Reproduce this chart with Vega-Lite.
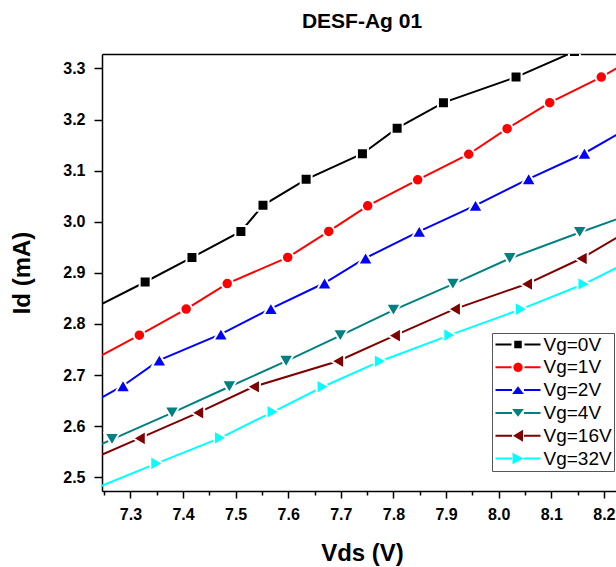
{
  "$schema": "https://vega.github.io/schema/vega-lite/v6.json",
  "width": 514,
  "height": 437,
  "autosize": {"type": "none"},
  "padding": {"left": 102, "top": 54, "right": 0, "bottom": 76},
  "background": "white",
  "config": {"view": {"stroke": null}, "font": "Liberation Sans"},
  "title": {"text": "DESF-Ag 01", "font": "Liberation Sans", "fontSize": 21, "fontWeight": "bold", "color": "black", "anchor": "middle", "frame": "group", "baseline": "alphabetic", "offset": 26, "dx": 3, "dy": 21},
  "datasets": {
    "main": [
      {"series": "Vg=0V", "vds": 7.230, "id": 2.831},
      {"series": "Vg=0V", "vds": 7.328, "id": 2.882},
      {"series": "Vg=0V", "vds": 7.417, "id": 2.930},
      {"series": "Vg=0V", "vds": 7.510, "id": 2.981},
      {"series": "Vg=0V", "vds": 7.552, "id": 3.032},
      {"series": "Vg=0V", "vds": 7.634, "id": 3.083},
      {"series": "Vg=0V", "vds": 7.741, "id": 3.133},
      {"series": "Vg=0V", "vds": 7.807, "id": 3.183},
      {"series": "Vg=0V", "vds": 7.895, "id": 3.233},
      {"series": "Vg=0V", "vds": 8.033, "id": 3.283},
      {"series": "Vg=0V", "vds": 8.144, "id": 3.333},
      {"series": "Vg=1V", "vds": 7.226, "id": 2.728},
      {"series": "Vg=1V", "vds": 7.317, "id": 2.778},
      {"series": "Vg=1V", "vds": 7.406, "id": 2.829},
      {"series": "Vg=1V", "vds": 7.484, "id": 2.879},
      {"series": "Vg=1V", "vds": 7.599, "id": 2.930},
      {"series": "Vg=1V", "vds": 7.677, "id": 2.981},
      {"series": "Vg=1V", "vds": 7.751, "id": 3.031},
      {"series": "Vg=1V", "vds": 7.846, "id": 3.082},
      {"series": "Vg=1V", "vds": 7.943, "id": 3.132},
      {"series": "Vg=1V", "vds": 8.016, "id": 3.182},
      {"series": "Vg=1V", "vds": 8.097, "id": 3.233},
      {"series": "Vg=1V", "vds": 8.195, "id": 3.283},
      {"series": "Vg=1V", "vds": 8.280, "id": 3.333},
      {"series": "Vg=2V", "vds": 7.198, "id": 2.629},
      {"series": "Vg=2V", "vds": 7.286, "id": 2.679},
      {"series": "Vg=2V", "vds": 7.355, "id": 2.729},
      {"series": "Vg=2V", "vds": 7.472, "id": 2.780},
      {"series": "Vg=2V", "vds": 7.567, "id": 2.830},
      {"series": "Vg=2V", "vds": 7.669, "id": 2.880},
      {"series": "Vg=2V", "vds": 7.747, "id": 2.929},
      {"series": "Vg=2V", "vds": 7.849, "id": 2.981},
      {"series": "Vg=2V", "vds": 7.956, "id": 3.032},
      {"series": "Vg=2V", "vds": 8.057, "id": 3.084},
      {"series": "Vg=2V", "vds": 8.163, "id": 3.134},
      {"series": "Vg=2V", "vds": 8.248, "id": 3.184},
      {"series": "Vg=4V", "vds": 7.155, "id": 2.524},
      {"series": "Vg=4V", "vds": 7.265, "id": 2.574},
      {"series": "Vg=4V", "vds": 7.379, "id": 2.626},
      {"series": "Vg=4V", "vds": 7.488, "id": 2.677},
      {"series": "Vg=4V", "vds": 7.596, "id": 2.727},
      {"series": "Vg=4V", "vds": 7.699, "id": 2.777},
      {"series": "Vg=4V", "vds": 7.800, "id": 2.827},
      {"series": "Vg=4V", "vds": 7.913, "id": 2.878},
      {"series": "Vg=4V", "vds": 8.021, "id": 2.928},
      {"series": "Vg=4V", "vds": 8.154, "id": 2.979},
      {"series": "Vg=4V", "vds": 8.290, "id": 3.029},
      {"series": "Vg=16V", "vds": 7.206, "id": 2.526},
      {"series": "Vg=16V", "vds": 7.317, "id": 2.576},
      {"series": "Vg=16V", "vds": 7.428, "id": 2.626},
      {"series": "Vg=16V", "vds": 7.534, "id": 2.677},
      {"series": "Vg=16V", "vds": 7.694, "id": 2.727},
      {"series": "Vg=16V", "vds": 7.802, "id": 2.777},
      {"series": "Vg=16V", "vds": 7.916, "id": 2.829},
      {"series": "Vg=16V", "vds": 8.053, "id": 2.878},
      {"series": "Vg=16V", "vds": 8.157, "id": 2.928},
      {"series": "Vg=16V", "vds": 8.240, "id": 2.978},
      {"series": "Vg=32V", "vds": 7.230, "id": 2.477},
      {"series": "Vg=32V", "vds": 7.350, "id": 2.527},
      {"series": "Vg=32V", "vds": 7.471, "id": 2.577},
      {"series": "Vg=32V", "vds": 7.571, "id": 2.628},
      {"series": "Vg=32V", "vds": 7.666, "id": 2.677},
      {"series": "Vg=32V", "vds": 7.775, "id": 2.727},
      {"series": "Vg=32V", "vds": 7.907, "id": 2.778},
      {"series": "Vg=32V", "vds": 8.043, "id": 2.829},
      {"series": "Vg=32V", "vds": 8.162, "id": 2.878},
      {"series": "Vg=32V", "vds": 8.260, "id": 2.928}
    ]
  },
  "data": {"name": "main"},
  "resolve": {"axis": {"x": "independent"}},
  "layer": [
    {
      "transform": [{"filter": {"field": "series", "equal": "Vg=0V"}}],
      "mark": {"type": "line", "stroke": "#000000", "strokeWidth": 2, "clip": true},
      "encoding": {
        "x": {"field": "vds", "type": "quantitative", "scale": {"domain": [7.246, 8.223], "nice": false, "zero": false},
          "axis": {
            "orient": "bottom",
            "values": [7.25,7.3,7.35,7.4,7.45,7.5,7.55,7.6,7.65,7.7,7.75,7.8,7.85,7.9,7.95,8.0,8.05,8.1,8.15,8.2],
            "labelExpr": "abs(datum.value*10 - round(datum.value*10)) < 0.001 ? format(datum.value, '.1f') : ''",
            "tickSize": {"condition": {"test": "abs(datum.value*10 - round(datum.value*10)) < 0.001", "value": 7}, "value": 4},
            "labelFont": "Liberation Sans", "labelFontSize": 16, "labelFontWeight": "bold", "labelColor": "black",
            "labelPadding": 8, "labelOverlap": false, "labelFlush": false,
            "tickColor": "black", "tickWidth": 1.5, "domainColor": "black", "domainWidth": 1.5, "grid": false,
            "title": "Vds (V)", "titleFont": "Liberation Sans", "titleFontSize": 24, "titleFontWeight": "bold", "titleColor": "black", "titlePadding": 19, "titleX": 260
          }},
        "y": {"field": "id", "type": "quantitative", "scale": {"domain": [2.473, 3.3282], "nice": false, "zero": false},
          "axis": {
            "orient": "left",
            "values": [2.5,2.55,2.6,2.65,2.7,2.75,2.8,2.85,2.9,2.95,3.0,3.05,3.1,3.15,3.2,3.25,3.3],
            "labelExpr": "abs(datum.value*10 - round(datum.value*10)) < 0.001 ? format(datum.value, '.1f') : ''",
            "tickSize": {"condition": {"test": "abs(datum.value*10 - round(datum.value*10)) < 0.001", "value": 8}, "value": 5},
            "labelFont": "Liberation Sans", "labelFontSize": 16, "labelFontWeight": "bold", "labelColor": "black",
            "labelPadding": 9, "labelOverlap": false, "labelFlush": false,
            "tickColor": "black", "tickWidth": 1.5, "domainColor": "black", "domainWidth": 1.5, "grid": false,
            "title": "Id (mA)", "titleFont": "Liberation Sans", "titleFontSize": 24, "titleFontWeight": "bold", "titleColor": "black", "titlePadding": 28
          }}
      }
    },
    {
      "transform": [{"filter": {"field": "series", "equal": "Vg=1V"}}],
      "mark": {"type": "line", "stroke": "#ff0000", "strokeWidth": 2, "clip": true},
      "encoding": {
        "x": {"field": "vds", "type": "quantitative", "axis": null},
        "y": {"field": "id", "type": "quantitative"}
      }
    },
    {
      "transform": [{"filter": {"field": "series", "equal": "Vg=2V"}}],
      "mark": {"type": "line", "stroke": "#0000ff", "strokeWidth": 2, "clip": true},
      "encoding": {
        "x": {"field": "vds", "type": "quantitative", "axis": null},
        "y": {"field": "id", "type": "quantitative"}
      }
    },
    {
      "transform": [{"filter": {"field": "series", "equal": "Vg=4V"}}],
      "mark": {"type": "line", "stroke": "#008080", "strokeWidth": 2, "clip": true},
      "encoding": {
        "x": {"field": "vds", "type": "quantitative", "axis": null},
        "y": {"field": "id", "type": "quantitative"}
      }
    },
    {
      "transform": [{"filter": {"field": "series", "equal": "Vg=16V"}}],
      "mark": {"type": "line", "stroke": "#800000", "strokeWidth": 2, "clip": true},
      "encoding": {
        "x": {"field": "vds", "type": "quantitative", "axis": null},
        "y": {"field": "id", "type": "quantitative"}
      }
    },
    {
      "transform": [{"filter": {"field": "series", "equal": "Vg=32V"}}],
      "mark": {"type": "line", "stroke": "#00ffff", "strokeWidth": 2, "clip": true},
      "encoding": {
        "x": {"field": "vds", "type": "quantitative", "axis": null},
        "y": {"field": "id", "type": "quantitative"}
      }
    },
    {
      "transform": [{"filter": {"field": "series", "equal": "Vg=0V"}}],
      "mark": {"type": "point", "shape": "square", "filled": true, "fill": "#000000", "stroke": "white", "strokeWidth": 2, "size": 121, "opacity": 1, "clip": true},
      "encoding": {
        "x": {"field": "vds", "type": "quantitative",
          "axis": {"orient": "top", "ticks": false, "labels": false, "title": null, "grid": false, "domainColor": "black", "domainWidth": 1.5}},
        "y": {"field": "id", "type": "quantitative"}
      }
    },
    {
      "transform": [{"filter": {"field": "series", "equal": "Vg=1V"}}],
      "mark": {"type": "point", "shape": "circle", "filled": true, "fill": "#ff0000", "stroke": "white", "strokeWidth": 2, "size": 132, "opacity": 1, "clip": true},
      "encoding": {
        "x": {"field": "vds", "type": "quantitative", "axis": null},
        "y": {"field": "id", "type": "quantitative"}
      }
    },
    {
      "transform": [{"filter": {"field": "series", "equal": "Vg=2V"}}],
      "mark": {"type": "point", "shape": "triangle-up", "filled": true, "fill": "#0000ff", "stroke": "white", "strokeWidth": 2, "size": 220, "opacity": 1, "clip": true},
      "encoding": {
        "x": {"field": "vds", "type": "quantitative", "axis": null},
        "y": {"field": "id", "type": "quantitative"}
      }
    },
    {
      "transform": [{"filter": {"field": "series", "equal": "Vg=4V"}}],
      "mark": {"type": "point", "shape": "triangle-down", "filled": true, "fill": "#008080", "stroke": "white", "strokeWidth": 2, "size": 220, "opacity": 1, "clip": true},
      "encoding": {
        "x": {"field": "vds", "type": "quantitative", "axis": null},
        "y": {"field": "id", "type": "quantitative"}
      }
    },
    {
      "transform": [{"filter": {"field": "series", "equal": "Vg=16V"}}],
      "mark": {"type": "point", "shape": "triangle-left", "filled": true, "fill": "#800000", "stroke": "white", "strokeWidth": 2, "size": 220, "opacity": 1, "clip": true},
      "encoding": {
        "x": {"field": "vds", "type": "quantitative", "axis": null},
        "y": {"field": "id", "type": "quantitative"}
      }
    },
    {
      "transform": [{"filter": {"field": "series", "equal": "Vg=32V"}}],
      "mark": {"type": "point", "shape": "triangle-right", "filled": true, "fill": "#00ffff", "stroke": "white", "strokeWidth": 2, "size": 220, "opacity": 1, "clip": true},
      "encoding": {
        "x": {"field": "vds", "type": "quantitative", "axis": null},
        "y": {"field": "id", "type": "quantitative"}
      }
    },
    {
      "mark": {"type": "point", "filled": true, "opacity": 1, "size": 100, "strokeWidth": 0, "clip": true},
      "encoding": {
        "x": {"datum": 7.0, "type": "quantitative", "axis": null},
        "y": {"datum": 2.0, "type": "quantitative"},
        "color": {"field": "series", "type": "nominal",
          "scale": {"domain": ["Vg=0V","Vg=1V","Vg=2V","Vg=4V","Vg=16V","Vg=32V"], "range": ["#000000","#ff0000","#0000ff","#008080","#800000","#00ffff"]},
          "legend": {"title": null, "orient": "none", "legendX": 390, "legendY": 279, "direction": "vertical", "labelFont": "Liberation Sans", "labelFontSize": 19, "labelColor": "black", "labelOffset": 16, "symbolOffset": 14.5, "symbolSize": 100, "symbolStrokeWidth": 0, "rowPadding": 2.8, "padding": 2, "strokeColor": "#555555", "fillColor": "white", "labelLimit": 0}},
        "shape": {"field": "series", "type": "nominal",
          "scale": {"domain": ["Vg=0V","Vg=1V","Vg=2V","Vg=4V","Vg=16V","Vg=32V"],
            "range": [
              "M-4.5,-0.2H-1.3V0.2H-4.5ZM1.3,-0.2H4.5V0.2H1.3ZM-0.75,-0.75H0.75V0.75H-0.75Z",
              "M-4.5,-0.2H-1.3V0.2H-4.5ZM1.3,-0.2H4.5V0.2H1.3ZM0.95,0L0.823,0.475L0.475,0.823L0,0.95L-0.475,0.823L-0.823,0.475L-0.95,0L-0.823,-0.475L-0.475,-0.823L0,-0.95L0.475,-0.823L0.823,-0.475Z",
              "M-4.5,-0.2H-1.2V0.2H-4.5ZM1.2,-0.2H4.5V0.2H1.2ZM0,-0.77L1.17,0.77L-1.17,0.77Z",
              "M-4.5,-0.2H-1.2V0.2H-4.5ZM1.2,-0.2H4.5V0.2H1.2ZM0,0.77L1.17,-0.77L-1.17,-0.77Z",
              "M-4.5,-0.2H-1.2V0.2H-4.5ZM1.2,-0.2H4.5V0.2H1.2ZM-1,0L1,-1.2L1,1.2Z",
              "M-4.5,-0.2H-1.2V0.2H-4.5ZM1.2,-0.2H4.5V0.2H1.2ZM1.1,0L-1.1,-1.15L-1.1,1.15Z"
            ]},
          "legend": {"title": null, "orient": "none", "legendX": 390, "legendY": 279, "direction": "vertical", "labelFont": "Liberation Sans", "labelFontSize": 19, "labelColor": "black", "labelOffset": 16, "symbolOffset": 14.5, "symbolSize": 100, "symbolStrokeWidth": 0, "rowPadding": 2.8, "padding": 2, "strokeColor": "#555555", "fillColor": "white", "labelLimit": 0}}
      }
    }
  ]
}
